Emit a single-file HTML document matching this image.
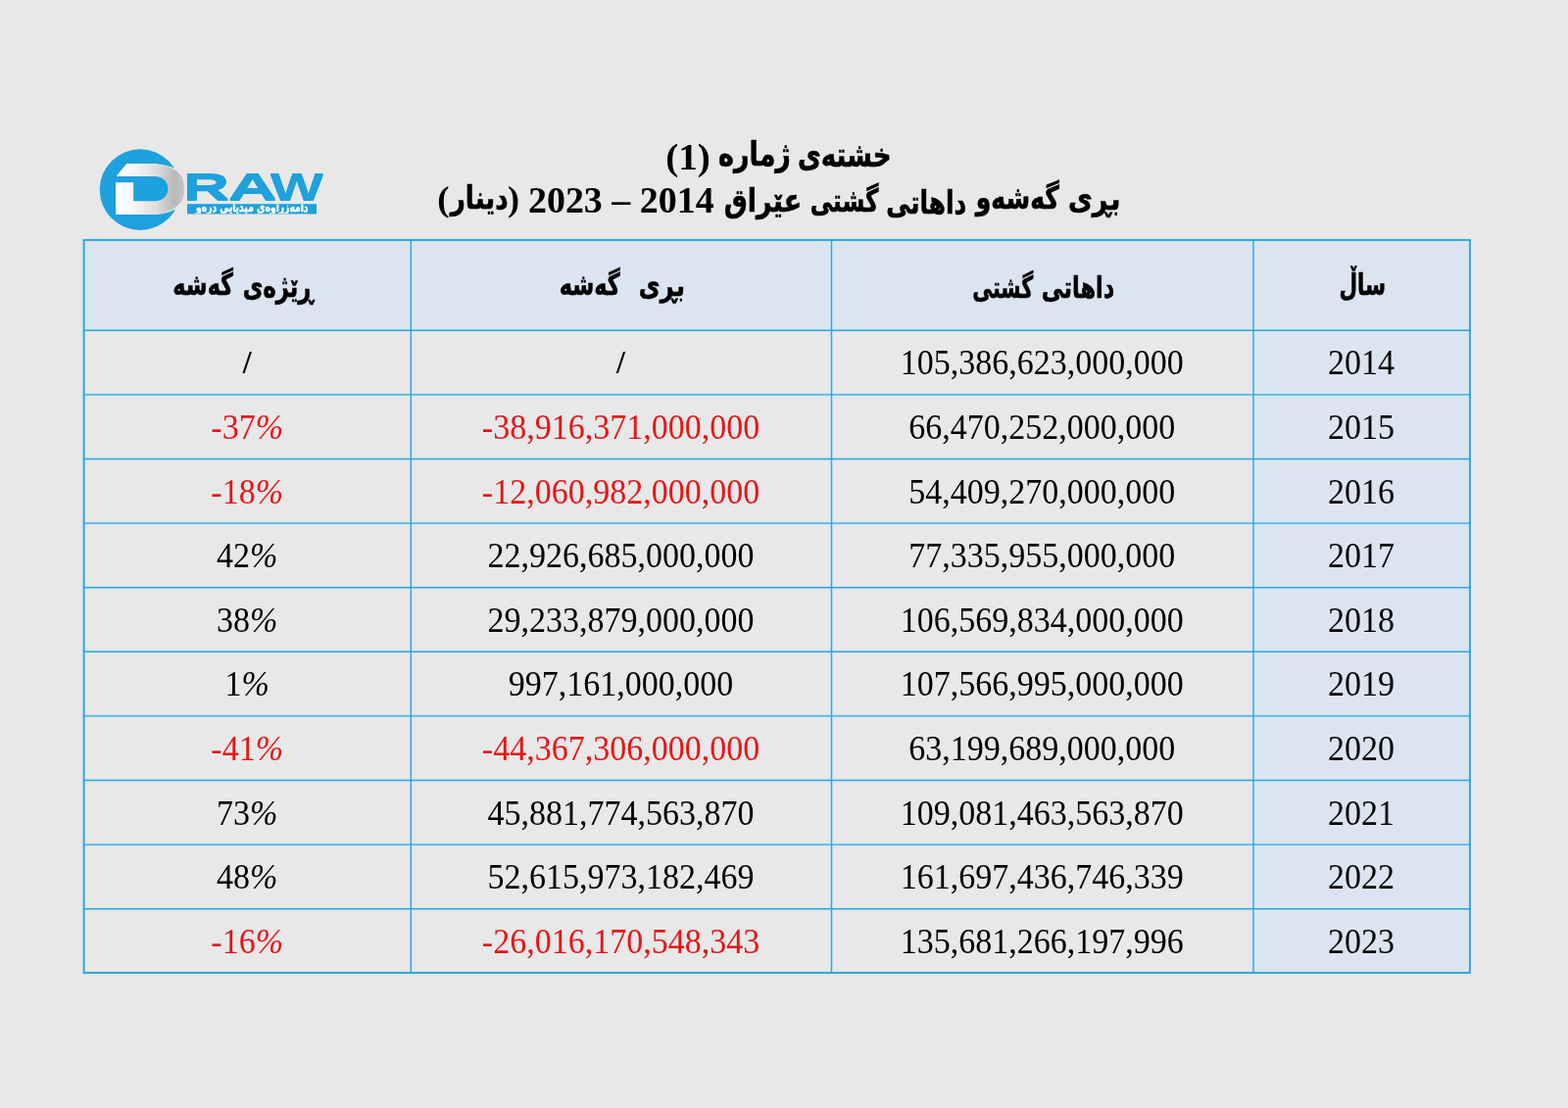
<!DOCTYPE html>
<html lang="ckb">
<head>
<meta charset="utf-8">
<title>خشتەی ژمارە (1)</title>
<style>
html,body{margin:0;padding:0;}
body{width:1600px;height:1131px;background:#e8e8e8;position:relative;overflow:hidden;font-family:"Liberation Serif","DejaVu Sans",serif;color:#000;}
.ln{position:absolute;left:0;top:0;margin:0;white-space:nowrap;line-height:1;direction:rtl;font-weight:bold;font-size:34px;}
.w{display:inline-block;white-space:nowrap;line-height:1;transform-origin:0 0;font-weight:bold;direction:rtl;}
.ar{font-family:"DejaVu Sans",sans-serif;-webkit-text-stroke:0.6px #000;}
.lt{font-family:"Liberation Serif",serif;}
.r{position:absolute;left:0;width:1600px;height:65.6px;}
.c{position:absolute;top:0;text-align:center;white-space:nowrap;font-size:34px;height:65.6px;line-height:65.6px;transform:translate(-0.4px,0.2px) scaleY(1.035);}
.c1{left:1279px;width:221px;}
.c2{left:848.5px;width:430.5px;}
.c3{left:419.3px;width:429.2px;}
.c4{left:85.8px;width:333.5px;}
.neg{color:#e81416;}
.sl{font-weight:bold;font-size:32px;}
</style>
</head>
<body>
<svg id="logo" width="400" height="260" viewBox="0 0 400 260" style="position:absolute;left:0;top:0;overflow:visible">
<defs>
<linearGradient id="sg" gradientUnits="userSpaceOnUse" x1="118" y1="0" x2="188" y2="0">
<stop offset="0" stop-color="#ffffff"/><stop offset="0.28" stop-color="#f6f5f5"/><stop offset="0.6" stop-color="#dddcdc"/><stop offset="0.85" stop-color="#b9b8b8"/><stop offset="1" stop-color="#c6c5c5"/>
</linearGradient>
<filter id="fl" filterUnits="userSpaceOnUse" x="100" y="150" width="240" height="90" color-interpolation-filters="sRGB">
<feOffset in="SourceGraphic" dx="-1" dy="-3" x="100" y="150" width="89.5" height="90" result="a"/>
<feOffset in="SourceGraphic" dx="1" dy="-3" x="100" y="150" width="89.5" height="90" result="b"/>
<feOffset in="SourceGraphic" dx="-1" dy="3" x="100" y="150" width="89.5" height="90" result="c"/>
<feOffset in="SourceGraphic" dx="1" dy="3" x="100" y="150" width="89.5" height="90" result="d"/>
<feOffset in="SourceGraphic" dx="0" dy="-1.2" x="189.5" y="150" width="150.5" height="90" result="e"/>
<feOffset in="SourceGraphic" dx="0" dy="1.2" x="189.5" y="150" width="150.5" height="90" result="f"/>
<feMerge result="m"><feMergeNode in="a"/><feMergeNode in="b"/><feMergeNode in="c"/><feMergeNode in="d"/><feMergeNode in="e"/><feMergeNode in="f"/><feMergeNode in="SourceGraphic"/></feMerge>
<feOffset in="m" dx="3" dy="0" x="100" y="150" width="89.5" height="90" result="o"/>
<feFlood flood-color="#e8e8e8" result="g"/>
<feComposite in="g" in2="o" operator="in" result="s"/>
<feMerge><feMergeNode in="s"/><feMergeNode in="m"/></feMerge>
</filter>
<clipPath id="bc"><rect x="191" y="208.6" width="132" height="9.4"/></clipPath>
</defs>
<circle cx="143" cy="193.6" r="41.3" fill="#1ea1dd"/>
<text font-family="'Liberation Sans',sans-serif" font-weight="bold" fill="#1ea1dd" filter="url(#fl)"><tspan x="112.05" y="215.50" font-size="66.57" textLength="79.37" lengthAdjust="spacingAndGlyphs" fill="url(#sg)">D</tspan><tspan x="186.85" y="204.40" font-size="37.50" textLength="47.50" lengthAdjust="spacingAndGlyphs">R</tspan><tspan x="232.77" y="204.40" font-size="37.50" textLength="50.05" lengthAdjust="spacingAndGlyphs">A</tspan><tspan x="275.94" y="204.40" font-size="37.50" textLength="53.86" lengthAdjust="spacingAndGlyphs">W</tspan></text>
<path d="M116 164H129.6V166.5L118.6 179.9H157.5C166 179.9 171.4 185 171.4 192.6C171.4 200.2 166 205.3 157.5 205.3H136.2V186.2H116Z" fill="#1ea1dd"/>
<rect x="191" y="208.2" width="132" height="10.2" fill="#1ea1dd"/>
<g clip-path="url(#bc)"><text transform="translate(314.55 216.43) scale(0.6978 1)" font-size="13.20" fill="#ffffff" stroke="#ffffff" stroke-width="0.5" font-family="'DejaVu Sans',sans-serif" font-weight="bold" direction="rtl" text-anchor="start">دامەزراوەی میدیایی درەو</text></g>
</svg>
<h1 class="ln" id="t1"><span class="w ar" style="font-size:34.34px;transform:translate(659.92px,138.87px) scaleX(0.7583);">خشتەی</span> <span class="w ar" style="font-size:34.34px;transform:translate(681.00px,137.83px) scaleX(0.7869);">ژمارە</span> <span class="w lt" style="font-size:37.33px;transform:translate(679.13px,141.79px) scaleX(1.0515);">(1)</span></h1>
<h2 class="ln" id="t2"><span class="w ar" style="font-size:32.36px;transform:translate(336.97px,182.16px) scaleX(0.8355);">بڕی</span> <span class="w ar" style="font-size:32.36px;transform:translate(360.75px,180.91px) scaleX(0.7743);">گەشەو</span> <span class="w ar" style="font-size:32.36px;transform:translate(385.22px,185.83px) scaleX(0.7652);">داهاتی</span> <span class="w ar" style="font-size:32.36px;transform:translate(413.63px,184.46px) scaleX(0.7142);">گشتی</span> <span class="w ar" style="font-size:32.36px;transform:translate(429.66px,183.89px) scaleX(0.8321);">عێراق</span> <span class="w lt" style="font-size:38.96px;transform:translate(432.95px,185.28px) scaleX(0.9741);">2014 – 2023</span> <span class="w lt" style="font-size:36.44px;transform:translate(432.92px,183.32px) scaleX(0.9920);">(</span><span class="w ar" style="font-size:32.36px;transform:translate(447.66px,181.44px) scaleX(0.8113);">دینار</span><span class="w lt" style="font-size:36.44px;transform:translate(446.14px,183.32px) scaleX(1.0115);">)</span></h2>
<svg id="grid" width="1600" height="1131" viewBox="0 0 1600 1131" style="position:absolute;left:0;top:0" shape-rendering="geometricPrecision">
<rect x="85" y="244" width="1416" height="93.3" fill="#dbe5f1"/>
<rect x="1279" y="244" width="222" height="750" fill="#dbe5f1"/>
<g fill="none" stroke="#c4ecff" stroke-opacity="0.75"><path d="M85 337.30H1501M85 402.90H1501M85 468.50H1501M85 534.10H1501M85 599.70H1501M85 665.30H1501M85 730.90H1501M85 796.50H1501M85 862.10H1501M85 927.70H1501M419.30 244V994M848.50 244V994M1279.00 244V994" stroke-width="3.6"/><rect x="85.6" y="245" width="1414.3" height="748" stroke-width="4"/></g>
<path d="M85 337.30H1501M85 402.90H1501M85 468.50H1501M85 534.10H1501M85 599.70H1501M85 665.30H1501M85 730.90H1501M85 796.50H1501M85 862.10H1501M85 927.70H1501M419.30 244V994M848.50 244V994M1279.00 244V994" fill="none" stroke="#3ba0d5" stroke-width="1.4"/>
<rect x="85.6" y="245" width="1414.3" height="748" fill="none" stroke="#3ba0d5" stroke-width="1.9"/>
</svg>
<div class="ln" id="h1"><span class="w ar" style="font-size:30.87px;transform:translate(1366.40px,273.37px) scaleX(0.6940);">ساڵ</span></div>
<div class="ln" id="h2"><span class="w ar" style="font-size:30.87px;transform:translate(960.66px,276.39px) scaleX(0.7312);">داهاتی</span> <span class="w ar" style="font-size:30.87px;transform:translate(992.16px,276.01px) scaleX(0.6660);">گشتی</span></div>
<div class="ln" id="h3"><span class="w ar" style="font-size:30.87px;transform:translate(548.82px,273.61px) scaleX(0.7722);">بڕی</span> &nbsp;<span class="w ar" style="font-size:30.87px;transform:translate(570.64px,272.78px) scaleX(0.7255);">گەشە</span></div>
<div class="ln" id="h4"><span class="w ar" style="font-size:30.87px;transform:translate(153.69px,275.48px) scaleX(0.7332);">ڕێژەی</span> <span class="w ar" style="font-size:30.87px;transform:translate(176.31px,272.78px) scaleX(0.7201);">گەشە</span></div>
<div class="r" style="top:337.30px"><div class="c c1">2014</div><div class="c c2">105,386,623,000,000</div><div class="c c3 sl">/</div><div class="c c4 sl">/</div></div>
<div class="r" style="top:402.90px"><div class="c c1">2015</div><div class="c c2">66,470,252,000,000</div><div class="c c3 neg">-38,916,371,000,000</div><div class="c c4 neg">-37<i>%</i></div></div>
<div class="r" style="top:468.50px"><div class="c c1">2016</div><div class="c c2">54,409,270,000,000</div><div class="c c3 neg">-12,060,982,000,000</div><div class="c c4 neg">-18<i>%</i></div></div>
<div class="r" style="top:534.10px"><div class="c c1">2017</div><div class="c c2">77,335,955,000,000</div><div class="c c3">22,926,685,000,000</div><div class="c c4">42<i>%</i></div></div>
<div class="r" style="top:599.70px"><div class="c c1">2018</div><div class="c c2">106,569,834,000,000</div><div class="c c3">29,233,879,000,000</div><div class="c c4">38<i>%</i></div></div>
<div class="r" style="top:665.30px"><div class="c c1">2019</div><div class="c c2">107,566,995,000,000</div><div class="c c3">997,161,000,000</div><div class="c c4">1<i>%</i></div></div>
<div class="r" style="top:730.90px"><div class="c c1">2020</div><div class="c c2">63,199,689,000,000</div><div class="c c3 neg">-44,367,306,000,000</div><div class="c c4 neg">-41<i>%</i></div></div>
<div class="r" style="top:796.50px"><div class="c c1">2021</div><div class="c c2">109,081,463,563,870</div><div class="c c3">45,881,774,563,870</div><div class="c c4">73<i>%</i></div></div>
<div class="r" style="top:862.10px"><div class="c c1">2022</div><div class="c c2">161,697,436,746,339</div><div class="c c3">52,615,973,182,469</div><div class="c c4">48<i>%</i></div></div>
<div class="r" style="top:927.70px"><div class="c c1">2023</div><div class="c c2">135,681,266,197,996</div><div class="c c3 neg">-26,016,170,548,343</div><div class="c c4 neg">-16<i>%</i></div></div>
</body>
</html>
